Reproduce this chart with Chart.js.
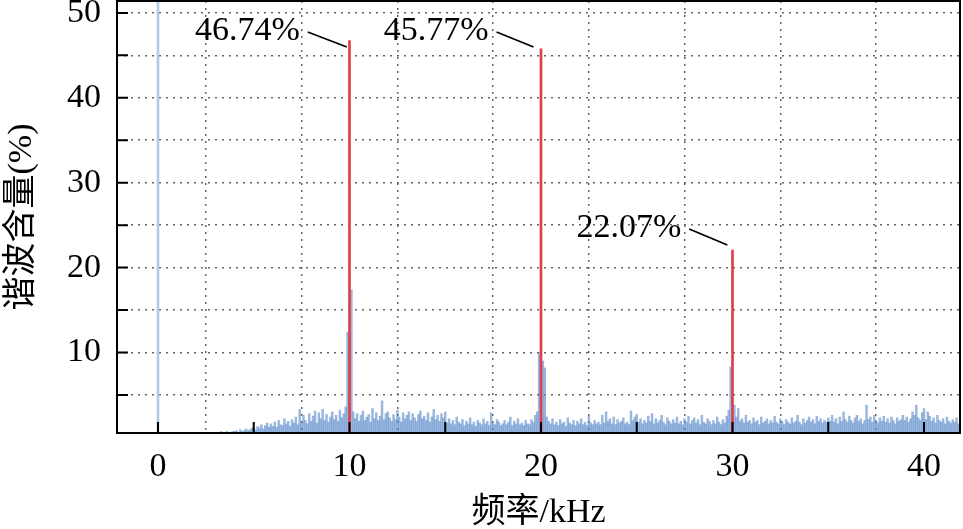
<!DOCTYPE html>
<html>
<head>
<meta charset="utf-8">
<script src="https://cdn.jsdelivr.net/npm/chart.js@4.4.1/dist/chart.umd.min.js"></script>
<style>
  body { margin: 0; background: #fff; }
  canvas { display: block; }
</style>
</head>
<body>
<canvas id="spectrum" width="963" height="529"></canvas>
<script>
// Harmonic spectrum data (kHz, %)
const harmonicFreqs = [10, 20, 30];
const harmonicValues = [46.74, 45.77, 22.07];
const harmonicLabels = ['46.74%', '45.77%', '22.07%'];

const dcFreq = [0];
const dcValue = [60];

// background spectrum, 0.1 kHz bins from 3.0 kHz, one row per kHz
const noiseStart = 3.0;
const noiseStep = 0.1;
const noiseRows = [
  [0.6,0.5,0.6,0.7,0.5,0.6,0.7,0.6,0.5,0.7], // 3
  [0.7,0.8,0.6,0.9,0.7,0.8,1.0,0.8,0.9,1.1], // 4
  [1.2,0.9,1.3,1.1,1.5,1.0,1.4,1.7,1.2,1.6], // 5
  [1.3,1.8,1.2,2.0,1.5,1.4,2.2,1.6,1.9,1.3], // 6
  [2.1,1.7,2.4,1.5,3.3,1.8,2.6,2.0,1.6,2.8], // 7
  [1.9,2.5,3.1,1.7,2.9,2.2,3.3,2.0,2.7,1.8], // 8
  [2.4,3.0,2.1,2.6,1.9,3.2,2.3,2.8,3.6,12.4], // 9
  [2.5,17.4,3.0,2.2,2.8,1.9,2.6,3.1,2.0,2.4], // 10
  [2.7,1.8,3.4,2.2,2.9,2.0,2.5,4.3,2.1,2.8], // 11
  [3.0,2.3,1.9,2.7,2.1,3.2,2.4,1.8,2.9,2.2], // 12
  [2.6,3.0,2.0,2.8,2.3,1.9,2.7,3.1,2.2,2.5], // 13
  [2.0,2.9,1.8,2.4,3.3,2.1,2.6,1.9,2.8,2.3], // 14
  [3.0,1.7,2.2,1.6,2.0,1.5,2.4,1.8,1.6,2.1], // 15
  [1.4,1.9,1.6,2.3,1.5,1.8,1.3,2.0,1.7,1.5], // 16
  [2.2,1.6,1.9,1.4,2.9,1.7,1.5,2.1,1.8,1.4], // 17
  [1.6,2.0,1.5,1.8,2.4,1.4,1.9,1.6,2.2,1.5], // 18
  [1.7,1.4,2.0,1.6,1.5,2.1,1.8,2.6,3.0,10.0], // 19
  [2.0,9.0,8.2,2.4,1.9,1.6,2.2,1.5,1.8,1.4], // 20
  [2.1,1.6,1.8,1.3,2.3,1.7,1.5,2.0,1.4,1.9], // 21
  [1.6,2.2,1.5,1.8,1.4,2.5,1.7,1.5,2.0,1.6], // 22
  [1.8,1.5,2.6,1.7,3.0,1.9,2.2,1.6,2.4,1.5], // 23
  [2.1,1.7,1.9,2.3,1.6,1.8,1.5,3.1,2.0,2.4], // 24
  [2.7,1.8,2.2,1.6,2.0,1.7,2.5,1.9,2.8,1.6], // 25
  [2.2,1.7,2.0,2.6,1.8,1.5,2.3,1.9,1.6,2.1], // 26
  [1.7,2.4,1.6,1.9,1.5,2.2,1.8,2.5,1.6,2.0], // 27
  [2.3,1.7,2.1,1.5,2.6,1.8,1.6,2.2,1.9,1.5], // 28
  [2.0,1.6,2.4,1.8,1.5,2.1,1.7,2.5,3.2,8.3], // 29
  [2.0,3.8,2.4,3.4,1.9,2.2,1.7,2.6,1.8,2.0], // 30
  [1.6,2.3,1.8,2.0,1.5,2.4,1.7,1.9,2.2,1.6], // 31
  [2.0,1.7,2.5,1.8,1.6,2.2,1.9,1.5,2.1,1.8], // 32
  [1.6,2.3,1.7,1.9,2.6,1.8,1.5,2.2,1.7,2.0], // 33
  [2.4,1.8,2.1,1.6,2.5,1.9,2.2,1.7,2.0,1.8], // 34
  [2.3,1.9,2.6,1.8,2.2,1.6,2.4,1.9,3.0,2.1], // 35
  [1.8,2.5,2.0,1.7,2.3,2.6,1.9,2.2,1.6,2.0], // 36
  [3.8,2.1,2.4,1.8,2.6,2.0,1.7,2.3,1.9,2.5], // 37
  [1.8,2.2,1.7,2.4,2.0,1.6,2.3,1.9,2.1,2.6], // 38
  [2.0,2.4,1.8,2.2,3.0,2.6,3.8,2.3,2.0,2.9], // 39
  [3.4,2.1,3.0,2.5,1.9,2.3,1.7,2.6,2.0,1.8], // 40
  [2.2,1.6,2.4,1.9,1.7,2.1,1.8,2.3,1.6,2.0]  // 41
];

// axis setup
const xRange = [-2.14, 41.88];
const yRange = [0.52, 51.4];
const xTicks = [0, 5, 10, 15, 20, 25, 30, 35, 40];
const yTicks = [5, 10, 15, 20, 25, 30, 35, 40, 45, 50];

// label leader lines in data units: [startX, startY, endX, endY]
const leaders = [
  [7.82, 47.75, 9.86, 45.98],
  [17.68, 47.75, 19.61, 45.98],
  [27.74, 24.55, 29.73, 22.66]
];

const noisePoints = [];
noiseRows.forEach((row, r) => {
  row.forEach((v, c) => {
    const f = +(noiseStart + (r * 10 + c) * noiseStep).toFixed(2);
    noisePoints.push({ x: f, y: v });
  });
});

const FONT = "'Liberation Serif', 'Noto Sans CJK SC', serif";
Chart.defaults.font.family = FONT;
Chart.defaults.color = '#000';

// frame, inward ticks and percentage labels
const decorations = {
  id: 'decorations',
  afterDatasetsDraw(chart) {
    const { ctx, chartArea: a, scales: { x, y } } = chart;
    ctx.save();
    ctx.strokeStyle = '#000';
    ctx.lineWidth = 2;
    ctx.beginPath();
    xTicks.forEach(v => {
      const px = x.getPixelForValue(v);
      ctx.moveTo(px, a.bottom);
      ctx.lineTo(px, a.bottom - 11);
    });
    yTicks.forEach(v => {
      const py = y.getPixelForValue(v);
      ctx.moveTo(a.left, py);
      ctx.lineTo(a.left + 11, py);
    });
    ctx.stroke();
    ctx.strokeRect(a.left, a.top, a.right - a.left, a.bottom - a.top);

    ctx.lineWidth = 1.8;
    ctx.font = '34px ' + FONT;
    ctx.fillStyle = '#000';
    ctx.textAlign = 'right';
    ctx.textBaseline = 'middle';
    leaders.forEach((l, i) => {
      const sx = x.getPixelForValue(l[0]), sy = y.getPixelForValue(l[1]);
      const ex = x.getPixelForValue(l[2]), ey = y.getPixelForValue(l[3]);
      ctx.beginPath();
      ctx.moveTo(sx, sy);
      ctx.lineTo(ex, ey);
      ctx.stroke();
      ctx.fillText(harmonicLabels[i], sx - 8, sy - 1);
    });
    ctx.restore();
  }
};

new Chart(document.getElementById('spectrum'), {
  type: 'bar',
  data: {
    datasets: [
      {
        label: 'harmonics',
        data: harmonicFreqs.map((f, i) => ({ x: f, y: harmonicValues[i] })),
        backgroundColor: '#dc3f48',
        barThickness: 2
      },
      {
        label: 'dc',
        data: dcFreq.map((f, i) => ({ x: f, y: dcValue[i] })),
        backgroundColor: 'rgba(150,185,225,0.75)',
        barThickness: 2
      },
      {
        label: 'spectrum',
        data: noisePoints,
        backgroundColor: 'rgba(85,135,200,0.6)',
        barThickness: 1.8
      }
    ]
  },
  options: {
    responsive: false,
    animation: false,
    events: [],
    layout: { padding: { top: 1, right: 3, left: 0, bottom: 0 } },
    datasets: { bar: { grouped: false } },
    plugins: { legend: { display: false }, tooltip: { enabled: false } },
    scales: {
      x: {
        type: 'linear',
        min: xRange[0],
        max: xRange[1],
        offset: false,
        afterBuildTicks: s => { s.ticks = xTicks.map(v => ({ value: v })); },
        afterFit: s => { s.height = 96; s.paddingLeft = 0; s.paddingRight = 0; },
        grid: { color: '#666', lineWidth: 1.5, drawTicks: false },
        border: { display: false, dash: [2, 5] },
        ticks: {
          callback: v => (v % 10 === 0 ? v : ''),
          font: { size: 34 },
          padding: 14,
          maxRotation: 0,
          autoSkip: false
        },
        title: { display: true, text: '频率/kHz', font: { size: 34 }, padding: { top: 0, bottom: -4 } }
      },
      y: {
        min: yRange[0],
        max: yRange[1],
        afterBuildTicks: s => { s.ticks = yTicks.map(v => ({ value: v })); },
        afterFit: s => { s.width = 117; s.paddingTop = 0; s.paddingBottom = 0; },
        grid: { color: '#666', lineWidth: 1.5, drawTicks: false },
        border: { display: false, dash: [2, 5] },
        ticks: {
          callback: v => (v % 10 === 0 ? v : ''),
          font: { size: 34 },
          padding: 16,
          autoSkip: false
        },
        title: { display: true, text: '谐波含量(%)', font: { size: 34 }, padding: { top: 2, bottom: 0 } }
      }
    }
  },
  plugins: [decorations]
});
</script>
</body>
</html>
